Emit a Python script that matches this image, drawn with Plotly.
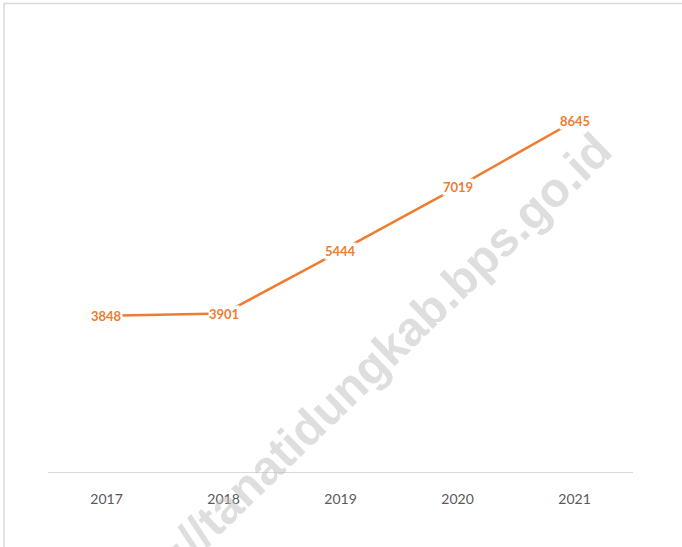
import plotly.graph_objects as go

years = [2017, 2018, 2019, 2020, 2021]
values = [3848, 3901, 5444, 7019, 8645]
watermark = "https://tanatidungkab.bps.go.id"

orange = "#ED7D31"

W, H = 682, 547
l, r, t, b = 48, 49, 66, 75
pw, ph = W - l - r, H - t - b
def px(x): return (x - l) / pw
def py(y): return (H - b - y) / ph

fig = go.Figure()
fig.add_trace(go.Scatter(
    x=years, y=values, mode="lines",
    line=dict(color=orange, width=2.5),
    hoverinfo="skip", showlegend=False,
))

# watermark
fig.add_annotation(
    text=f"<b>{watermark}</b>", xref="paper", yref="paper", x=px(346.7), y=py(389.8),
    xanchor="center", yanchor="middle", showarrow=False, textangle=-44,
    font=dict(family="Liberation Sans", size=48, color="rgba(190,190,190,0.5)"),
)

for yr, v in zip(years, values):
    fig.add_annotation(
        x=yr, y=v, xref="x", yref="y", text=f"<b>{v}</b>", showarrow=False,
        xanchor="center", yanchor="middle", bgcolor="white", borderpad=0,
        font=dict(family="Lato", size=13, color=orange),
    )

# chart frame (top and left border)
fig.add_shape(type="line", xref="paper", yref="paper", x0=px(3.5), x1=px(690), y0=py(3.5), y1=py(3.5),
              line=dict(color="#d9d9d9", width=1.5))
fig.add_shape(type="line", xref="paper", yref="paper", x0=px(4), x1=px(4), y0=py(3.5), y1=py(560),
              line=dict(color="#d9d9d9", width=1.5))

fig.update_xaxes(
    range=[2016.5, 2021.5], tickvals=years, ticktext=[str(y) for y in years],
    showgrid=False, zeroline=False, showline=True,
    linecolor="#d9d9d9", linewidth=1.2, ticks="", ticklabelstandoff=14,
    tickfont=dict(family="Lato", size=14, color="#595959"),
)
fig.update_yaxes(range=[0, 10000], showgrid=False, zeroline=False, showticklabels=False, showline=False)

fig.update_layout(
    width=W, height=H, margin=dict(l=l, r=r, t=t, b=b),
    paper_bgcolor="white", plot_bgcolor="white",
)

fig.write_html("out.html", config={"displayModeBar": False},
               post_script="document.body.style.margin='0';document.body.style.overflow='hidden';")
